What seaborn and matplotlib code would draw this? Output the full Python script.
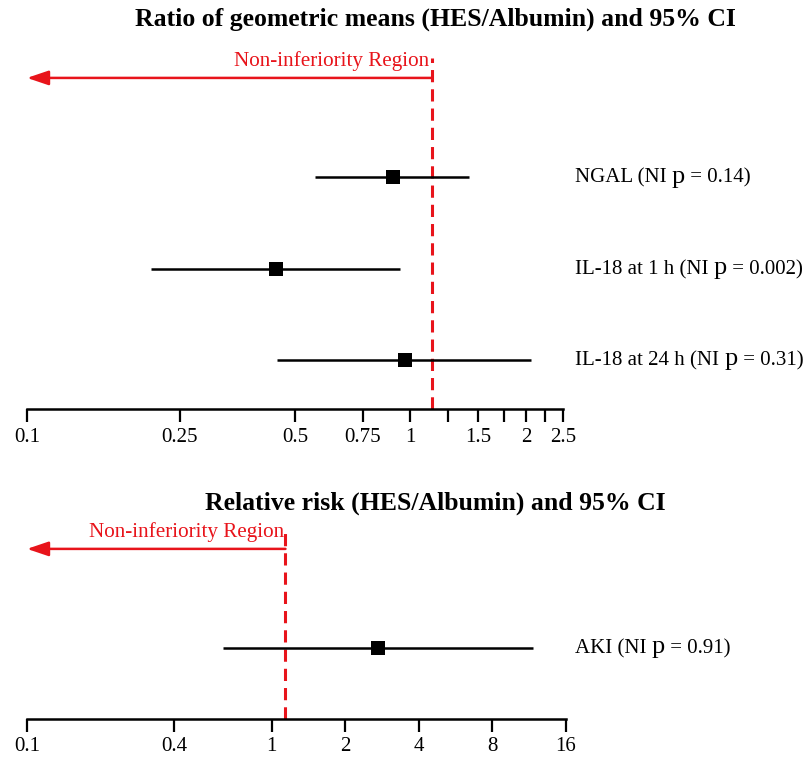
import seaborn as sns
import matplotlib.pyplot as plt
from matplotlib.ticker import NullLocator
import numpy as np
import pandas as pd

# values (log scale)
top_names = ["NGAL", "IL-18 at 1 h", "IL-18 at 24 h"]
top_pvals = ["0.14", "0.002", "0.31"]
top_est = [0.90, 0.446, 0.968]
top_lo = [0.565, 0.210, 0.448]
top_hi = [1.418, 0.937, 2.065]
top_margin = 1.135
top_ticks = [0.1, 0.25, 0.5, 0.75, 1, 1.25, 1.5, 1.75, 2, 2.25, 2.5]
top_ticklabels = ["0.1", "0.25", "0.5", "0.75", "1", "", "1.5", "", "2", "", "2.5"]

bot_names = ["AKI"]
bot_pvals = ["0.91"]
bot_est = [2.735]
bot_lo = [0.636]
bot_hi = [11.77]
bot_margin = 1.14
bot_ticks = [0.1, 0.4, 1, 2, 4, 8, 16]
bot_ticklabels = ["0.1", "0.4", "1", "2", "4", "8", "16"]

sns.set_style("white")
plt.rcParams["font.family"] = ["Liberation Serif", "DejaVu Serif"]
plt.rcParams["text.color"] = "black"

RED = "#e8141b"
W, H = 810, 759
fig = plt.figure(figsize=(W / 100, H / 100), dpi=100)
renderer = fig.canvas.get_renderer()


def px_axes(x0, x1, ytop, ybot):
    return fig.add_axes([x0 / W, 1 - ybot / H, (x1 - x0) / W, (ybot - ytop) / H])


ax1 = px_axes(27, 563, 40, 409)
ax2 = px_axes(27, 566, 515, 718.6)


def row_label(ax, row, name, pval):
    # "name (NI p = x)" with an enlarged p, placed piece by piece on one baseline
    ybase = ax.transData.transform((1, row))[1] - 5.5
    x = 575.0
    for part, size in [(name + " (NI ", 15), ("p", 19), (" = " + pval + ")", 15)]:
        t = fig.text(x / W, ybase / H, part, fontsize=size, ha="left", va="baseline",
                     color="black")
        x = t.get_window_extent(renderer).x1


def forest(ax, names, pvals, est, lo, hi, margin, ticks, ticklabels, xlim, ylim,
           title, title_y):
    df = pd.DataFrame({"name": names, "est": est, "lo": lo, "hi": hi,
                       "row": np.arange(len(names))})
    ax.set_xscale("log")
    ax.hlines(df["row"], df["lo"], df["hi"], color="black", lw=1.8, zorder=2)
    sns.scatterplot(data=df, x="est", y="row", marker="s", s=95, color="black",
                    edgecolor="black", linewidth=0, ax=ax, zorder=3)
    ax.set_xlim(*xlim)
    ax.set_ylim(*ylim)
    ax.set_xticks(ticks)
    ax.set_xticklabels(ticklabels)
    ax.xaxis.set_minor_locator(NullLocator())
    ax.set_yticks([])
    ax.set_xlabel("")
    ax.set_ylabel("")
    for s in ["top", "left", "right"]:
        ax.spines[s].set_visible(False)
    ax.spines["bottom"].set_linewidth(1.8)
    ax.spines["bottom"].set_color("black")
    ax.tick_params(axis="x", direction="out", length=9.5, width=1.6, pad=4,
                   labelsize=15, colors="black", bottom=True)

    # non-inferiority margin and arrow
    ax.plot([margin, margin], [ylim[0], -1.30], color=RED, lw=2.2,
            dashes=(4, 2.3), zorder=1)
    ax.annotate("", xy=(xlim[0], -1.085), xytext=(margin, -1.085),
                arrowprops=dict(arrowstyle="-|>,head_length=0.65,head_width=0.22",
                                color=RED, lw=1.8, mutation_scale=20,
                                shrinkA=0, shrinkB=0))
    ax.text(margin / 1.012, -1.27, "Non-inferiority Region", color=RED,
            fontsize=15.2, ha="right", va="center")

    for i in range(len(names)):
        row_label(ax, i, names[i], pvals[i])

    fig.text(435 / W, 1 - title_y / H, title, ha="center", va="center",
             fontsize=18.5, fontweight="bold", color="black")


unit = 91.35
forest(ax1, top_names, top_pvals, top_est, top_lo, top_hi, top_margin, top_ticks,
       top_ticklabels, (0.1, 2.5), (2 + 49 / unit, -137 / unit),
       "Ratio of geometric means (HES/Albumin) and 95% CI", 19)
forest(ax2, bot_names, bot_pvals, bot_est, bot_lo, bot_hi, bot_margin, bot_ticks,
       bot_ticklabels, (0.1, 16), (70.6 / unit, -133 / unit),
       "Relative risk (HES/Albumin) and 95% CI", 503)

plt.savefig("out.png", dpi=100)
plt.close()
